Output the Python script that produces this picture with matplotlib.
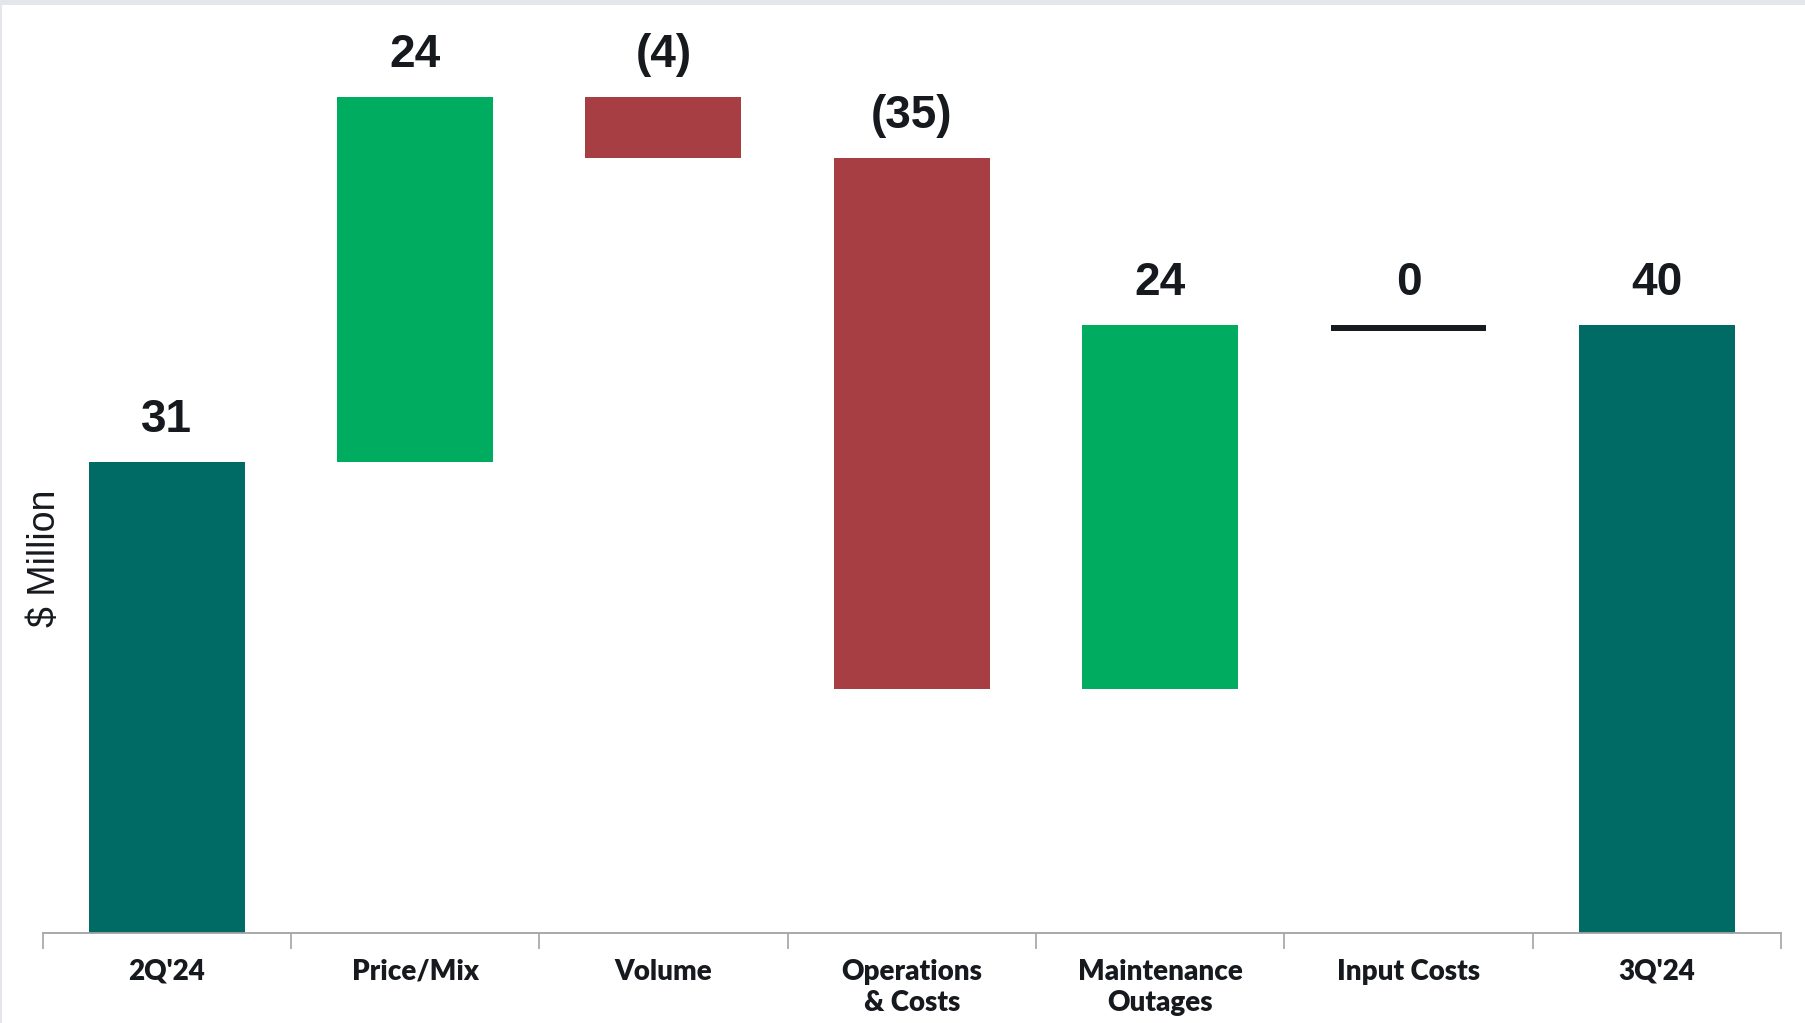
import matplotlib
matplotlib.use('Agg')
import matplotlib.pyplot as plt
from matplotlib.patches import Rectangle
import numpy as np

# EBITDA bridge, $ million
steps = ["2Q'24", 'Price/Mix', 'Volume', 'Operations\n& Costs',
         'Maintenance\nOutages', 'Input Costs', "3Q'24"]
changes = [31, 24, -4, -35, 24, 0, 40]
value_labels = ['31', '24', '(4)', '(35)', '24', '0', '40']
is_total = [True, False, False, False, False, False, True]

TEAL = '#006B64'
GREEN = '#00AC5F'
RED = '#A63E43'
INK = '#16191D'
AXIS_GRAY = '#A3A3A3'

W, H = 1805, 1023
fig = plt.figure(figsize=(W / 100, H / 100), dpi=100)
fig.patch.set_facecolor('white')

# axes placed so one category slot is ~248px and the baseline sits at y=932
left_px, right_px, base_px = 42.6, 1781.0, 932.5
px_per_unit = 15.19
ax = fig.add_axes([left_px / W, (H - base_px) / H,
                   (right_px - left_px) / W, base_px / H])
ax.set_xlim(-0.5, len(steps) - 0.5)
ax.set_ylim(0, base_px / px_per_unit)

x = np.arange(len(steps))
bar_w = 0.628
running = 0
tops = []
for i, (chg, total) in enumerate(zip(changes, is_total)):
    if total:
        bottom, height, color = 0, chg, TEAL
        running = chg
    else:
        bottom = running if chg >= 0 else running + chg
        height = abs(chg)
        color = GREEN if chg > 0 else RED
        running += chg
    if height == 0:
        # no change: flat marker at the running level
        ax.hlines(running - 0.2, i - bar_w / 2, i + bar_w / 2, colors=INK,
                  linewidth=4.3, capstyle='butt')
    else:
        ax.bar(i, height, bottom=bottom, width=bar_w, color=color,
               linewidth=0)
    tops.append(bottom + height)

for i, (top, lab) in enumerate(zip(tops, value_labels)):
    ax.annotate(lab, (i, top), xytext=(0, 21.5), textcoords='offset points',
                ha='center', va='baseline', fontsize=33, fontweight='bold',
                family='Liberation Sans', color=INK)

for s in ['top', 'right', 'left']:
    ax.spines[s].set_visible(False)
ax.spines['bottom'].set_color(AXIS_GRAY)
ax.spines['bottom'].set_linewidth(1.3)

ax.set_yticks([])
ax.set_xticks(x)
ax.set_xticklabels(steps, fontsize=20, fontweight='heavy', family='Lato',
                   color=INK, linespacing=1.25)
ax.set_xticks(np.arange(-0.5, len(steps)), minor=True)
ax.tick_params(axis='x', which='major', length=0, pad=19)
ax.tick_params(axis='x', which='minor', length=11.3, width=1.2,
               color=AXIS_GRAY, direction='out')

fig.text(45 / W, 1 - 558 / H, '$ Million', rotation=90, ha='center',
         va='center', fontsize=27, family='Liberation Sans', color=INK)

# thin frame strips along the top and left edges
fig.add_artist(Rectangle((0, 1 - 5 / H), 1, 5 / H, transform=fig.transFigure,
                         facecolor='#E3E6EA', edgecolor='none'))
fig.add_artist(Rectangle((0, 0), 1.5 / W, 1, transform=fig.transFigure,
                         facecolor='#E3E6EA', edgecolor='none'))

fig.savefig('out.png', dpi=100)
